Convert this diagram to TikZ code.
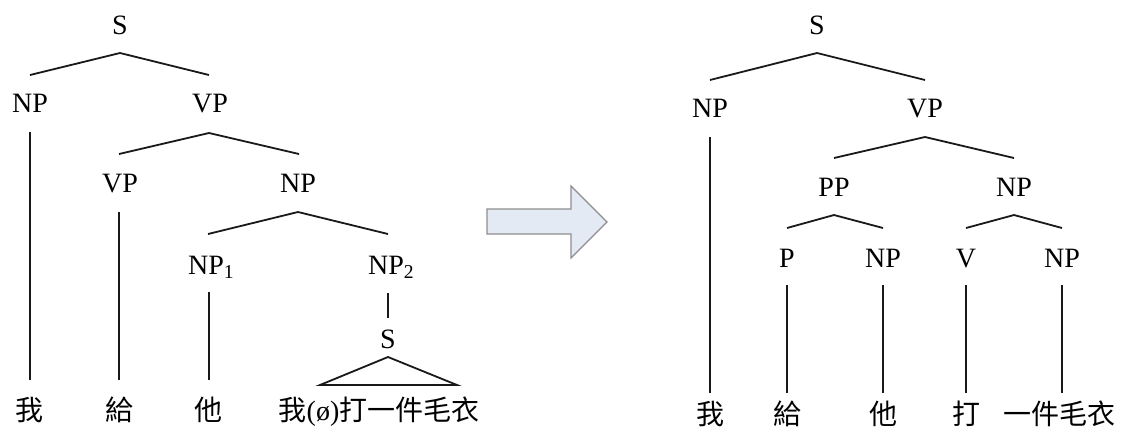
\documentclass[tikz,border=0pt]{standalone}
\usepackage{fontspec}
\setmainfont{Liberation Serif}
\newfontfamily\cjk{Noto Sans CJK TC}
\usetikzlibrary{calc}
\definecolor{arrowfill}{HTML}{E4EAF4}
\definecolor{arrowline}{HTML}{8E8E8E}
\tikzset{
  lab/.style={inner sep=0pt, text height=14pt, text depth=0pt, font=\fontsize{21}{24}\selectfont},
  word/.style={lab, font=\fontsize{21}{24}\selectfont\cjk},
  br/.style={line width=1.35pt, draw=black!90}
}
\begin{document}
\begin{tikzpicture}[x=0.75pt, y=-0.75pt]
\path[use as bounding box, fill=white] (0,0) rectangle (1126,430);

% ---------- left tree ----------
\node[lab] (S1)  at (120,25)  {S};
\node[lab] (NPa) at (30,103)  {NP};
\node[lab] (VPa) at (210,103) {VP};
\node[lab] (VPb) at (120,183) {VP};
\node[lab] (NPb) at (298,183) {NP};
\node[lab] (NP1) at (206,265) {NP\rlap{\textsubscript{1}}};
\node[lab] (NP2) at (386,265) {NP\rlap{\textsubscript{2}}};
\node[lab] (S3)  at (388,339) {S};
\node[word] (wa1) at (30,411)  {我};
\node[word] (wa2) at (119,411) {給};
\node[word] (wa3) at (208,411) {他};
\node[word] (wa4) at (379,411) {我{\rmfamily(ø)}打一件毛衣};

\draw[br] ($(NPa)+(0,-28)$) -- ($(S1)+(0,28)$) -- ($(VPa)+(-1,-28)$);
\draw[br] ($(NPa)+(0,29)$) -- ($(wa1)+(0,-31)$);
\draw[br] ($(VPb)+(-1,-29)$) -- ($(VPa)+(-1,30)$) -- ($(NPb)+(1,-29)$);
\draw[br] ($(VPb)+(-1,29)$) -- ($(wa2)+(0,-31)$);
\draw[br] ($(NP1)+(2,-31)$) -- ($(NPb)+(0,29)$) -- ($(NP2)+(2,-31)$);
\draw[br] ($(NP1)+(3,27)$) -- ($(wa3)+(1,-31)$);
\draw[br] ($(NP2)+(2,28)$) -- ($(S3)+(0,-21)$);
\draw[br] ($(S3)+(-68,46)$) -- ($(S3)+(0,18)$) -- ($(S3)+(69,46)$) -- cycle;

% ---------- arrow ----------
\draw[fill=arrowfill, draw=arrowline, line width=0.9pt, line join=miter]
  (487,209) -- (571,209) -- (571,186) -- (607,222) -- (571,258) -- (571,234) -- (487,234) -- cycle;

% ---------- right tree ----------
\node[lab] (S2)  at (817,25)  {S};
\node[lab] (NPc) at (710,108) {NP};
\node[lab] (VPc) at (925,108) {VP};
\node[lab] (PP)  at (834,187) {PP};
\node[lab] (NPd) at (1014,187) {NP};
\node[lab] (P)   at (787,258) {P};
\node[lab] (NPe) at (883,258) {NP};
\node[lab] (V)   at (966,258) {V};
\node[lab] (NPf) at (1062,258) {NP};
\node[word] (wb1) at (710,415)  {我};
\node[word] (wb2) at (787,415)  {給};
\node[word] (wb3) at (883,415)  {他};
\node[word] (wb4) at (966,415)  {打};
\node[word] (wb5) at (1059,415) {一件毛衣};

\draw[br] ($(NPc)+(0,-28)$) -- ($(S2)+(0,28)$) -- ($(VPc)+(0,-28)$);
\draw[br] ($(NPc)+(0,29)$) -- ($(wb1)+(0,-22)$);
\draw[br] ($(PP)+(0,-29)$) -- ($(VPc)+(0,29)$) -- ($(NPd)+(0,-29)$);
\draw[br] ($(P)+(0,-30)$) -- ($(PP)+(0,28)$) -- ($(NPe)+(0,-30)$);
\draw[br] ($(V)+(0,-30)$) -- ($(NPd)+(0,28)$) -- ($(NPf)+(0,-30)$);
\draw[br] ($(P)+(0,27)$) -- ($(wb2)+(0,-22)$);
\draw[br] ($(NPe)+(0,27)$) -- ($(wb3)+(0,-22)$);
\draw[br] ($(V)+(0,27)$) -- ($(wb4)+(0,-22)$);
\draw[br] ($(NPf)+(0,27)$) -- ($(wb5)+(3,-22)$);
\end{tikzpicture}
\end{document}
